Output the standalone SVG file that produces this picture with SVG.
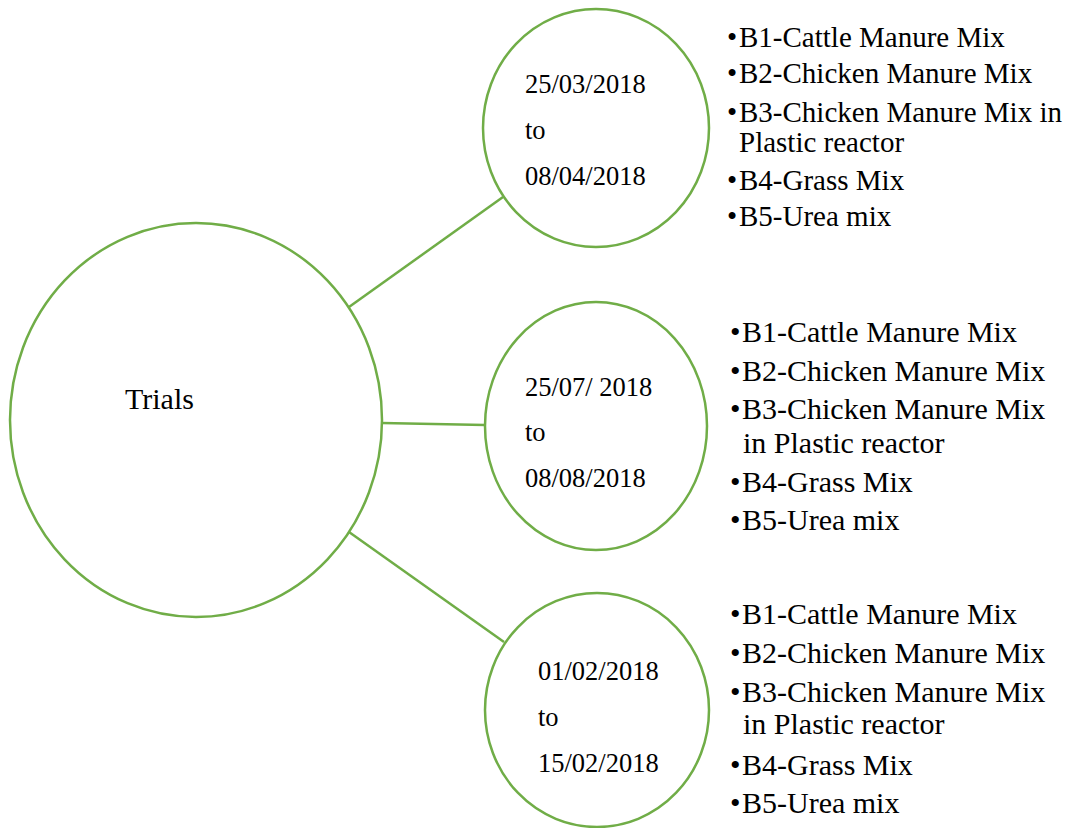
<svg xmlns="http://www.w3.org/2000/svg" width="1072" height="828" viewBox="0 0 1072 828">
<style>
.node{fill:#ffffff;stroke:#70AD47;stroke-width:2.5}
.conn{stroke:#70AD47;stroke-width:2.5;fill:none}
text{font-family:"Liberation Serif","Times New Roman",serif;fill:#000000}
.date{font-size:26.5px}
.trials{font-size:30px}
.l1{font-size:29px}
.l2{font-size:30px}
</style>
<rect width="1072" height="828" fill="#ffffff"/>
<g id="connectors">
<line class="conn" x1="349" y1="307" x2="503" y2="197"/>
<line class="conn" x1="382" y1="423" x2="485" y2="425"/>
<line class="conn" x1="349" y1="532" x2="504" y2="642"/>
</g>
<g id="trials">
<ellipse class="node" cx="196" cy="420" rx="186" ry="197"/>
<text class="trials" x="125" y="409">Trials</text>
</g>
<g id="trial1">
<ellipse class="node" cx="596" cy="128" rx="113" ry="119"/>
<text class="date" x="525" y="93">25/03/2018</text>
<text class="date" x="525" y="139">to</text>
<text class="date" x="525" y="185">08/04/2018</text>
</g>
<g id="trial2">
<ellipse class="node" cx="596" cy="426" rx="111" ry="124"/>
<text class="date" x="525" y="396">25/07/ 2018</text>
<text class="date" x="525" y="441">to</text>
<text class="date" x="525" y="487">08/08/2018</text>
</g>
<g id="trial3">
<ellipse class="node" cx="597" cy="710" rx="112" ry="117"/>
<text class="date" x="538" y="680">01/02/2018</text>
<text class="date" x="538" y="726">to</text>
<text class="date" x="538" y="772">15/02/2018</text>
</g>
<g id="list1" class="l1">
<text x="727" y="47">•<tspan x="739">B1-Cattle Manure Mix</tspan></text>
<text x="727" y="83">•<tspan x="739">B2-Chicken Manure Mix</tspan></text>
<text x="727" y="122">•<tspan x="739">B3-Chicken Manure Mix in</tspan></text>
<text x="739" y="152">Plastic reactor</text>
<text x="727" y="190">•<tspan x="739">B4-Grass Mix</tspan></text>
<text x="727" y="226">•<tspan x="739">B5-Urea mix</tspan></text>
</g>
<g id="list2" class="l2">
<text x="730" y="342">•<tspan x="742">B1-Cattle Manure Mix</tspan></text>
<text x="730" y="381">•<tspan x="742">B2-Chicken Manure Mix</tspan></text>
<text x="730" y="419">•<tspan x="742">B3-Chicken Manure Mix</tspan></text>
<text x="743" y="453">in Plastic reactor</text>
<text x="730" y="492">•<tspan x="742">B4-Grass Mix</tspan></text>
<text x="730" y="530">•<tspan x="742">B5-Urea mix</tspan></text>
</g>
<g id="list3" class="l2">
<text x="730" y="624">•<tspan x="742">B1-Cattle Manure Mix</tspan></text>
<text x="730" y="663">•<tspan x="742">B2-Chicken Manure Mix</tspan></text>
<text x="730" y="702">•<tspan x="742">B3-Chicken Manure Mix</tspan></text>
<text x="743" y="734">in Plastic reactor</text>
<text x="730" y="775">•<tspan x="742">B4-Grass Mix</tspan></text>
<text x="730" y="813">•<tspan x="742">B5-Urea mix</tspan></text>
</g>
</svg>
